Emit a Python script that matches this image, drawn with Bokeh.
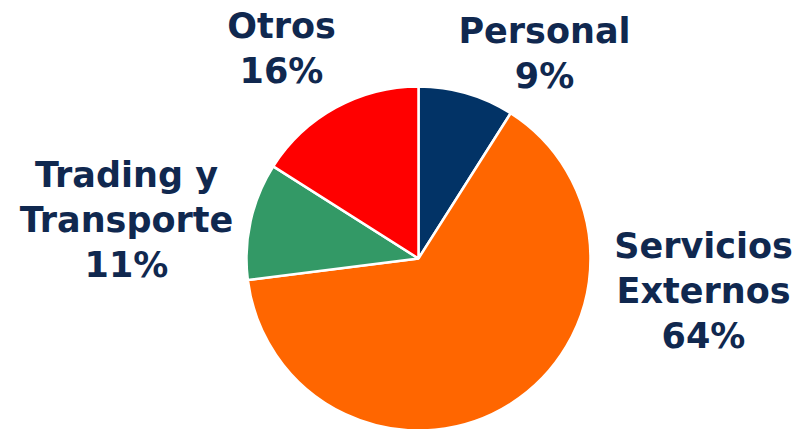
import math
from bokeh.plotting import figure
from bokeh.models import Range1d, ColumnDataSource
from bokeh.core.properties import value
from bokeh.embed import file_html
from bokeh.resources import INLINE

# ---- data ----
categories = ["Personal", "Servicios Externos", "Trading y Transporte", "Otros"]
label_lines = [["Personal"], ["Servicios", "Externos"], ["Trading y", "Transporte"], ["Otros"]]
shares = [9, 64, 11, 16]
colors = ["#023366", "#FF6600", "#339966", "#FF0000"]

# ---- layout (pixels, top-left origin of the figure) ----
W, H = 805, 429
CX, CY, R = 418, 258, 172
label_anchor = {  # center x, baseline y of first line
    "Personal": (544, 30),
    "Servicios Externos": (703, 245),
    "Trading y Transporte": (126, 174),
    "Otros": (281, 25),
}
LINE_STEP = 45
TEXT_COLOR = "#10284F"

p = figure(width=W, height=H, output_backend="svg", toolbar_location=None,
           x_range=Range1d(0, W), y_range=Range1d(0, H), min_border=0)
p.axis.visible = False
p.grid.visible = False
p.outline_line_color = None
p.background_fill_color = "white"
p.border_fill_color = "white"

total = sum(shares)
starts, ends = [], []
acc = 0.0
for s in shares:
    th0 = acc / total * 2 * math.pi
    acc += s
    th1 = acc / total * 2 * math.pi
    starts.append(math.pi / 2 - th0)
    ends.append(math.pi / 2 - th1)

src = ColumnDataSource(dict(x=[CX] * len(shares), y=[H - CY] * len(shares),
                            start=starts, end=ends, color=colors, cat=categories))
p.wedge(x="x", y="y", radius=R, start_angle="start", end_angle="end",
        direction="clock", fill_color="color", line_color="white", line_width=2.5,
        source=src)

tx, ty, tt = [], [], []
for cat, lines, s in zip(categories, label_lines, shares):
    ax, ay = label_anchor[cat]
    all_lines = lines + [f"{s}%"]
    for i, ln in enumerate(all_lines):
        tx.append(ax)
        ty.append(H - (ay + i * LINE_STEP))
        tt.append(ln)

p.text(x=tx, y=ty, text=tt, text_align="center", text_baseline="alphabetic",
       text_font=value("DejaVu Sans"), text_font_style="bold",
       text_font_size="35px", text_color=TEXT_COLOR)

open("out.html", "w").write(file_html(p, INLINE))
